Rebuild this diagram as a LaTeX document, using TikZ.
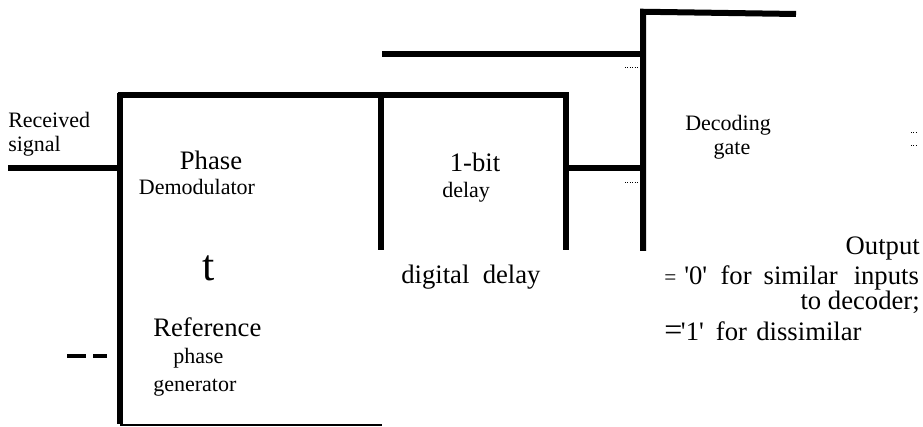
\documentclass[tikz,border=0pt]{standalone}
\usepackage{fontspec}
\setmainfont{Liberation Serif}
\begin{document}
\begin{tikzpicture}[x=0.75pt,y=-0.75pt,
  wire/.style={line width=4.5pt},
  thinwire/.style={line width=1.6pt},
  dashwire/.style={line width=3pt},
  dotmark/.style={line width=0.6pt,dash pattern=on 0.6pt off 1.2pt},
  small/.style={font=\fontsize{16.5}{18}\selectfont,inner sep=0pt},
  med/.style={font=\fontsize{20}{22}\selectfont,inner sep=0pt},
  big/.style={font=\fontsize{33}{36}\selectfont,inner sep=0pt}]
\useasboundingbox (0,0) rectangle (923,427);
% coordinates
\coordinate (rin) at (8,168);
\coordinate (pdTL) at (120,95);
\coordinate (pdBL) at (120,425);
\coordinate (pdBR) at (382,425);
\coordinate (dlTL) at (381,95);
\coordinate (dlBL) at (381,250);
\coordinate (dlTR) at (566,95);
\coordinate (dlBR) at (566,250);
\coordinate (dlOut) at (566,168);
\coordinate (dgIn2) at (643,168);
\coordinate (feedL) at (382,54);
\coordinate (dgIn1) at (643,54);
\coordinate (dgTL) at (643,14);
\coordinate (dgBL) at (643,251);
\coordinate (dgTR) at (796,14);
% Phase demodulator / reference generator block
\draw[wire] (rin) -- (pdTL |- rin);
\draw[wire] (120,92.75) -- (pdBL |- 0,423.5);
\draw[wire] (117.75,95) -- (dlTR) -- (dlBR);
\draw[thinwire] (pdBL) -- (pdBR);
\draw[wire] (dlTL) -- (dlBL);
% 1-bit delay to decoding gate
\draw[wire] (dlOut) -- (dgIn2);
\draw[wire] (feedL) -- (dgIn1);
\draw[wire] (dgBL) -- (643,11.75) -- (dgTR);
% dash
\draw[dashwire] (67,356) -- (86,356);
\draw[dashwire] (93,356) -- (107,356);
% dotted marks
\draw[dotmark] (625,67) -- (638,67);
\draw[dotmark] (625,182) -- (638,182);
\draw[dotmark] (911,132) -- (917,132);
\draw[dotmark] (911,145) -- (917,145);
% texts
\node[small,anchor=base west] (t1) at (8,128) {Received};
\node[small,anchor=base west] (t2) at (8,152) {signal};
\node[med,anchor=base] (t3) at (211,170) {Phase};
\node[small,anchor=base] (t4) at (197,195) {Demodulator};
\node[big,anchor=base] (t5) at (209,281) {t};
\node[med,anchor=base west] (t6) at (153,336) {Reference};
\node[small,anchor=base west] (t7) at (173,363) {phase};
\node[small,anchor=base west] (t8) at (153,391) {generator};
\node[med,anchor=base] (t9) at (475,172) {1-bit};
\node[small,anchor=base west] (t10) at (442,198) {delay};
\node[med,anchor=base west] (t11) at (401,283) {digital\hspace{10pt}delay};
\node[small,anchor=base west] (t12) at (685,131) {Decoding};
\node[small,anchor=base] (t13) at (732,155) {gate};
\node[med,anchor=base east] (t14) at (920,255) {Output};
\node[med,anchor=base west] (t15) at (664,285) {{\fontsize{16}{18}\selectfont=}\hspace{6pt}\textquotesingle0\textquotesingle\hspace{10pt}for\hspace{9pt}similar\hspace{12pt}inputs};
\node[med,anchor=base east] (t16) at (920,310) {to decoder;};
\node[med,anchor=base west] (t17) at (664,340) {{\fontsize{24}{26}\selectfont=}\kern-1pt\textquotesingle1\textquotesingle\hspace{9pt}for\hspace{7pt}dissimilar};
\end{tikzpicture}
\end{document}
